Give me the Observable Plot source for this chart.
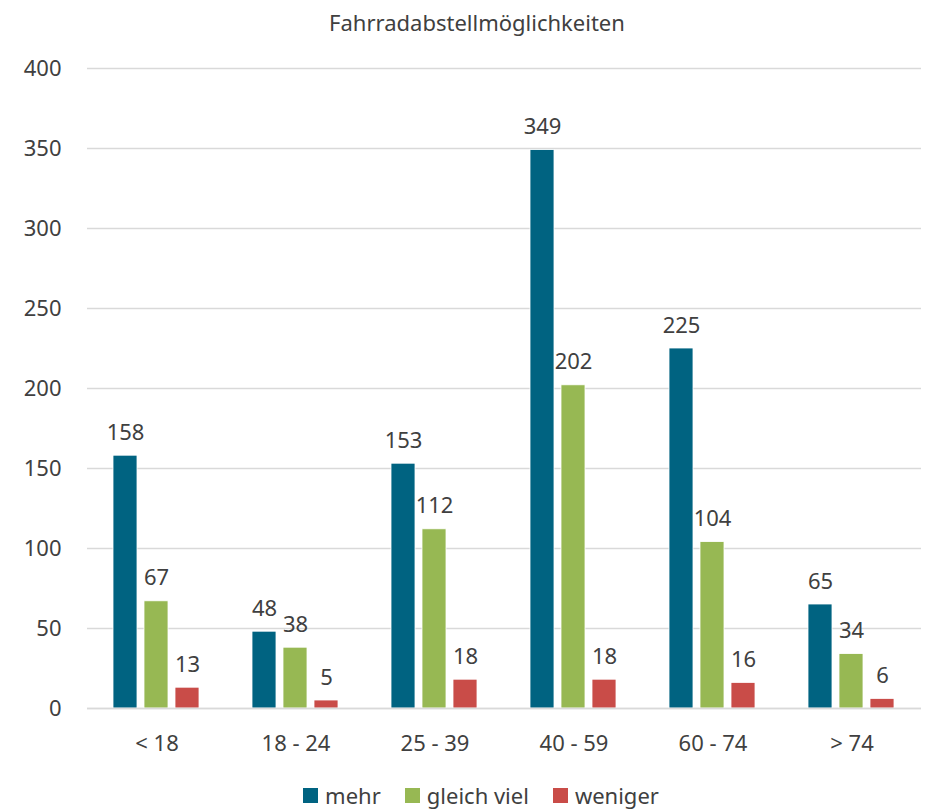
<!DOCTYPE html>
<html>
<head>
<meta charset="utf-8">
<script src="https://cdn.jsdelivr.net/npm/d3@7"></script>
<script src="https://cdn.jsdelivr.net/npm/@observablehq/plot@0.6"></script>
<style>
  body { margin: 0; background: #fff; font-family: "Noto Sans", sans-serif; color: #404040; }
  #wrap { width: 926px; position: relative; height: 809px; }
  #title { position: absolute; top: 0; left: 0; width: 926px; height: 44px; line-height: 44px; font-size: 22px; text-align: center; padding-left: 28px; box-sizing: border-box; }
  #chart { position: absolute; top: 44px; left: 0; }
  #legend { position: absolute; top: 780px; left: 0; width: 926px; display: flex; justify-content: center; font-size: 22px; height: 30px; align-items: center; padding-left: 36px; box-sizing: border-box; }
  .item { display: flex; align-items: center; margin: 0 12px; }
  .sw { width: 15px; height: 15px; margin-right: 7px; display: inline-block; }
</style>
</head>
<body>
<div id="wrap">
  <div id="title">Fahrradabstellmöglichkeiten</div>
  <div id="chart"></div>
  <div id="legend"></div>
</div>
<script>
const groups = ["< 18", "18 - 24", "25 - 39", "40 - 59", "60 - 74", "> 74"];
const series = ["mehr", "gleich viel", "weniger"];
const mehr = [158, 48, 153, 349, 225, 65];
const gleichViel = [67, 38, 112, 202, 104, 34];
const weniger = [13, 5, 18, 18, 16, 6];
const colors = ["#006381", "#97B853", "#C94C48"];
const yTicks = [0, 50, 100, 150, 200, 250, 300, 350, 400];

const values = [mehr, gleichViel, weniger];
const data = [];
groups.forEach((g, i) => series.forEach((s, j) => data.push({group: g, series: s, value: values[j][i]})));

const chart = Plot.plot({
  width: 926,
  height: 724,
  marginTop: 24,
  marginLeft: 87,
  marginRight: 5,
  marginBottom: 60,
  style: {fontFamily: "'Noto Sans', sans-serif", fontSize: "22px", color: "#404040", background: "white"},
  fx: {domain: groups, padding: 0, label: null},
  x: {domain: series, axis: null, paddingInner: 0.22, paddingOuter: 0.83},
  y: {domain: [0, 400], label: null},
  color: {domain: series, range: colors},
  marks: [
    Plot.gridY(yTicks, {stroke: "#d9d9d9", strokeOpacity: 1, strokeWidth: 1.3}),
    Plot.barY(data, {fx: "group", x: "series", y: "value", fill: "series", stroke: "white", strokeWidth: 0.8}),
    Plot.text(data, {fx: "group", x: "series", y: "value", text: d => String(d.value), dy: -23, fill: "#404040", fontSize: 22}),
    Plot.axisY(yTicks, {tickSize: 0, tickPadding: 26, label: null, fontSize: 22, fill: "#404040"}),
    Plot.axisFx({anchor: "bottom", tickSize: 0, tickPadding: 27, label: null, fontSize: 22, fill: "#404040"}),
    Plot.ruleY([0], {stroke: "#d9d9d9", strokeWidth: 1.5})
  ]
});
document.getElementById("chart").appendChild(chart);

const legend = document.getElementById("legend");
series.forEach((s, i) => {
  const it = document.createElement("div");
  it.className = "item";
  it.innerHTML = `<span class="sw" style="background:${colors[i]}"></span><span>${s}</span>`;
  legend.appendChild(it);
});
</script>
</body>
</html>
